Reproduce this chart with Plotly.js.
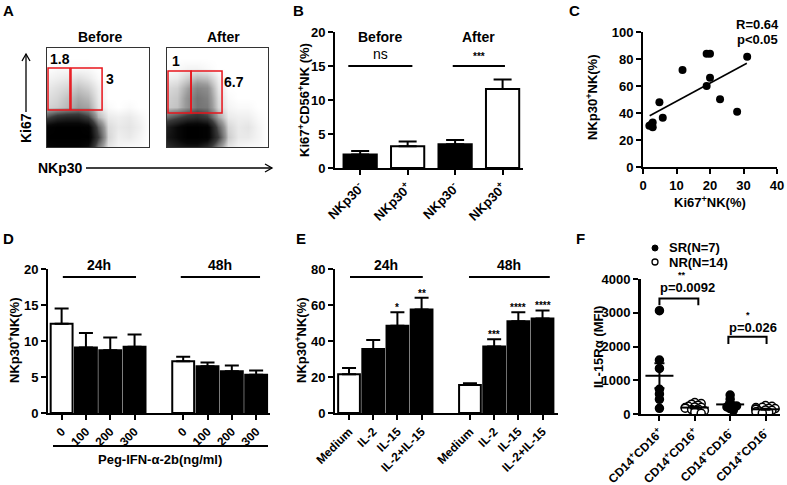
<!DOCTYPE html>
<html><head><meta charset="utf-8">
<script src="https://cdn.plot.ly/plotly-3.0.1.min.js"></script>
<style>html,body{margin:0;padding:0;background:#fff}</style>
</head><body><div id="chart" style="width:787px;height:485px"></div>
<script>
// ---------- DATA ----------
// Panel A: flow-cytometry density (rows = Ki67 0..100, cols = NKp30 0..100)
const flowGrid = [0,10,20,30,40,50,60,70,80,90,100];
const beforeDensity = [
 [0.9,0.95,0.95,0.95,0.8,0.3,0.05,0.02,0.01,0.01,0],
 [1,1,1,1,1,0.5,0.08,0.03,0.04,0.02,0],
 [0.95,1,1,1,0.95,0.4,0.07,0.04,0.05,0.03,0],
 [0.45,0.6,0.65,0.65,0.5,0.15,0.04,0.03,0.04,0.02,0],
 [0.08,0.1,0.14,0.2,0.18,0.05,0.01,0,0.01,0,0],
 [0.06,0.08,0.12,0.17,0.14,0.04,0,0,0,0,0],
 [0.04,0.06,0.08,0.12,0.09,0.03,0,0,0,0,0],
 [0.02,0.03,0.04,0.06,0.04,0.01,0,0,0,0,0],
 [0,0.01,0.01,0.01,0.01,0,0,0,0,0,0],
 [0,0,0,0,0,0,0,0,0,0,0],
 [0,0,0,0,0,0,0,0,0,0,0]];
const afterDensity = [
 [0.6,0.7,0.75,0.75,0.6,0.25,0.05,0.02,0.01,0.01,0],
 [0.75,0.85,1,1,0.95,0.5,0.1,0.04,0.04,0.02,0],
 [0.7,0.85,1,1,0.95,0.4,0.08,0.04,0.05,0.02,0],
 [0.35,0.45,0.55,0.6,0.5,0.18,0.04,0.03,0.03,0.01,0],
 [0.1,0.12,0.22,0.32,0.3,0.08,0.02,0.01,0.01,0,0],
 [0.09,0.11,0.22,0.32,0.28,0.07,0.01,0,0,0,0],
 [0.07,0.09,0.18,0.27,0.24,0.05,0,0,0,0,0],
 [0.03,0.04,0.09,0.14,0.12,0.03,0,0,0,0,0],
 [0,0.01,0.02,0.02,0.01,0,0,0,0,0,0],
 [0,0,0,0,0,0,0,0,0,0,0],
 [0,0,0,0,0,0,0,0,0,0,0]];
const flowTitles = ["Before","After"];
const beforeGateLabels = ["1.8","3"];
const afterGateLabels = ["1","6.7"];

// Panel B
const bCategories = ["NKp30<sup>-</sup>","NKp30<sup>+</sup>","NKp30<sup>-</sup>","NKp30<sup>+</sup>"];
const bValues = [2.0, 3.2, 3.5, 11.6];
const bErrTop = [2.5, 3.9, 4.1, 13.0];
const bFill = ["black","white","black","white"];
const bGroups = ["Before","After"];
const bSig = ["ns","***"];

// Panel C
const cKi67 = [1.9, 2.5, 2.9, 2.9, 4.9, 5.9, 11.8, 19.0, 20.0, 19.0, 20.0, 23.0, 28.1, 31.1];
const cNKp30 = [30.6, 31.5, 33.0, 29.4, 47.9, 36.5, 71.8, 83.9, 83.9, 60.0, 66.2, 50.1, 41.0, 81.7];
const cFitX = [2, 31];
const cFitY = [38, 76.8];
const cStats = ["R=0.64","p<0.05"];

// Panel D
const dDoses = ["0","100","200","300"];
const dGroups = ["24h","48h"];
const dValues = [12.4, 9.1, 8.7, 9.2, 7.2, 6.5, 5.8, 5.3];
const dErrTop = [14.5, 11.1, 10.5, 10.9, 7.8, 7.0, 6.6, 5.9];
const dFill = ["white","black","black","black","white","black","black","black"];

// Panel E
const eTreatments = ["Medium","IL-2","IL-15","IL-2+IL-15"];
const eGroups = ["24h","48h"];
const eValues = [21.5, 35.5, 48.5, 57.5, 15.5, 37.0, 51.0, 52.5];
const eErrTop = [25.0, 40.5, 56.0, 64.0, 16.5, 41.0, 56.0, 57.0];
const eFill = ["white","black","black","black","white","black","black","black"];
const eSig = ["","","*","**","","***","****","****"];

// Panel F
const fCategories = ["CD14<sup>+</sup>CD16<sup>+</sup>","CD14<sup>+</sup>CD16<sup>+</sup>","CD14<sup>+</sup>CD16<sup>-</sup>","CD14<sup>+</sup>CD16<sup>-</sup>"];
const fSeriesNames = ["SR(N=7)","NR(N=14)"];
const fCat1SR = [3060, 1600, 1350, 730, 590, 434, 168];
const fCat2NR = [340, 310, 290, 260, 230, 210, 200, 190, 170, 150, 130, 100, 60, 20];
const fCat3SR = [560, 440, 270, 240, 210, 160, 110];
const fCat4NR = [250, 230, 200, 190, 170, 160, 150, 140, 120, 110, 90, 70, 50, 30];
const fPvalues = ["p=0.0092","p=0.026"];
const fStars = ["**","*"];

// ---------- HELPERS ----------
const W = 787, H = 485;
const px = x => x / W;
const py = y => 1 - y / H;
const FONT = "'Liberation Sans', Arial, sans-serif";
const bold = (size) => ({family: FONT, size: size, color: "black", weight: 700});
const B = t => "<b>" + t + "</b>";

function numTicks(lo, hi, step) {
  const v = []; for (let t = lo; t <= hi + 1e-9; t += step) v.push(t);
  return {tickvals: v, ticktext: v.map(t => B(String(t)))};
}
function axisStyle(extra) {
  return Object.assign({
    showline: true, linecolor: "black", linewidth: 2,
    ticks: "outside", ticklen: 5, tickwidth: 2, tickcolor: "black",
    showgrid: false, zeroline: false, tickfont: bold(13), fixedrange: true
  }, extra);
}
function positions(nGroups, perGroup) {
  const p = [];
  for (let g = 0; g < nGroups; g++) for (let i = 0; i < perGroup; i++) p.push(g * (perGroup + 1) + i);
  return p;
}

const traces = [];
const shapes = [];
const annotations = [];
function note(o) {
  annotations.push(Object.assign({xref:"paper", yref:"paper", xanchor:"center", yanchor:"middle", showarrow:false, font: bold(13)}, o));
}

// ---------- PANEL A ----------
const flowScale = [[0,"#ffffff"],[0.05,"#e4e4e4"],[0.2,"#9a9a9a"],[0.5,"#3a3a3a"],[0.85,"#080808"],[1,"#000000"]];
[[beforeDensity,"x","y"],[afterDensity,"x2","y2"]].forEach(([z,xa,ya]) => {
  traces.push({type:"heatmap", x: flowGrid, y: flowGrid, z: z, xaxis: xa, yaxis: ya,
    zmin: 0, zmax: 1, colorscale: flowScale, showscale: false, zsmooth: "best", hoverinfo: "skip"});
});
const gateStyle = {color: "#e8141b", width: 1.5};
[["x","y",[1,22.5,23.5,54],[37.4,79.8]],["x2","y2",[1,23.8,23.8,54.5],[34.3,76.8]]].forEach(([xa,ya,gx,gy]) => {
  shapes.push({type:"rect", xref: xa, yref: ya, x0: gx[0], x1: gx[1], y0: gy[0], y1: gy[1], line: gateStyle});
  shapes.push({type:"rect", xref: xa, yref: ya, x0: gx[2], x1: gx[3], y0: gy[0], y1: gy[1], line: gateStyle});
});
note({x: px(100), y: py(37), text: B(flowTitles[0]), font: bold(14)});
note({x: px(223), y: py(37), text: B(flowTitles[1]), font: bold(14)});
note({x: px(60), y: py(59), text: B(beforeGateLabels[0]), font: bold(14)});
note({x: px(110), y: py(79), text: B(beforeGateLabels[1]), font: bold(14)});
note({x: px(176), y: py(61), text: B(afterGateLabels[0]), font: bold(14)});
note({x: px(234), y: py(82), text: B(afterGateLabels[1]), font: bold(14)});
note({x: px(26), y: py(128), text: B("Ki67"), textangle: -90, font: bold(14)});
note({x: px(60), y: py(168), text: B("NKp30"), font: bold(14)});
shapes.push({type:"line", xref:"paper", yref:"paper", x0: px(26), x1: px(26), y0: py(112), y1: py(54), line:{color:"black", width:1.3}});
shapes.push({type:"path", xref:"paper", yref:"paper", path: `M ${px(22)} ${py(61)} L ${px(26)} ${py(54)} L ${px(30)} ${py(61)}`, line:{color:"black", width:1.3}});
shapes.push({type:"line", xref:"paper", yref:"paper", x0: px(86), x1: px(272), y0: py(168), y1: py(168), line:{color:"black", width:1.3}});
shapes.push({type:"path", xref:"paper", yref:"paper", path: `M ${px(265)} ${py(164)} L ${px(272)} ${py(168)} L ${px(265)} ${py(172)}`, line:{color:"black", width:1.3}});

// ---------- PANEL B ----------
const bPos = bValues.map((_, i) => i);
traces.push({type:"bar", x: bPos, y: bValues, xaxis:"x3", yaxis:"y3", width: 0.7,
  marker:{color: bFill, line:{color:"black", width:2}},
  error_y:{type:"data", symmetric:false, array: bErrTop.map((e,i)=>e-bValues[i]), arrayminus: bValues.map(()=>0), color:"black", thickness:2, width:9},
  hoverinfo:"skip"});
[[-0.25,1.1],[1.95,3.05]].forEach((r, g) => {
  shapes.push({type:"line", xref:"x3", yref:"y3", x0: r[0], x1: r[1], y0: 15, y1: 15, line:{color:"black", width:2}});
  note({xref:"x3", x: (r[0]+r[1])/2, y: py(37), text: B(bGroups[g]), font: bold(14)});
  note({xref:"x3", x: (r[0]+r[1])/2, y: py(g===0 ? 54 : 56), text: g===0 ? bSig[g] : B(bSig[g]), font: g===0 ? {family:FONT,size:14,color:"black"} : bold(10)});
});
note({x: px(304), y: py(100), text: B("Ki67<sup>+</sup>CD56<sup>+</sup>NK (%)"), textangle:-90});

// ---------- PANEL C ----------
traces.push({type:"scatter", mode:"markers", x: cKi67, y: cNKp30, xaxis:"x4", yaxis:"y4",
  marker:{color:"black", size:8}, hoverinfo:"skip"});
traces.push({type:"scatter", mode:"lines", x: cFitX, y: cFitY, xaxis:"x4", yaxis:"y4",
  line:{color:"black", width:1.6}, hoverinfo:"skip"});
note({x: px(757), y: py(24), text: B(cStats[0]), font: bold(13)});
note({x: px(757), y: py(39), text: B(cStats[1]), font: bold(13)});
note({x: px(592), y: py(97), text: B("NKp30<sup>+</sup>NK(%)"), textangle:-90});
note({x: px(710), y: py(202), text: B("Ki67<sup>+</sup>NK(%)")});

// ---------- PANEL D ----------
const dPos = positions(dGroups.length, dDoses.length);
traces.push({type:"bar", x: dPos, y: dValues, xaxis:"x5", yaxis:"y5", width: 0.9,
  marker:{color: dFill, line:{color:"black", width:2}},
  error_y:{type:"data", symmetric:false, array: dErrTop.map((e,i)=>e-dValues[i]), arrayminus: dValues.map(()=>0), color:"black", thickness:2, width:7},
  hoverinfo:"skip"});
[[0.05,3.06],[4.9,8.16]].forEach((r, g) => {
  shapes.push({type:"line", xref:"x5", yref:"paper", x0: r[0], x1: r[1], y0: py(277), y1: py(277), line:{color:"black", width:2}});
  note({xref:"x5", x: (r[0]+r[1])/2, y: py(265), text: B(dGroups[g]), font: bold(14)});
});
shapes.push({type:"line", xref:"paper", yref:"paper", x0: px(53), x1: px(268), y0: py(446), y1: py(446), line:{color:"black", width:2}});
note({x: px(160), y: py(459), text: B("Peg-IFN-α-2b(ng/ml)")});
note({x: px(14), y: py(340), text: B("NKp30<sup>+</sup>NK(%)"), textangle:-90});

// ---------- PANEL E ----------
const ePos = positions(eGroups.length, eTreatments.length);
traces.push({type:"bar", x: ePos, y: eValues, xaxis:"x6", yaxis:"y6", width: 0.9,
  marker:{color: eFill, line:{color:"black", width:2}},
  error_y:{type:"data", symmetric:false, array: eErrTop.map((e,i)=>e-eValues[i]), arrayminus: eValues.map(()=>0), color:"black", thickness:2, width:7},
  hoverinfo:"skip"});
[[0.04,3.05],[4.96,8.3]].forEach((r, g) => {
  shapes.push({type:"line", xref:"x6", yref:"paper", x0: r[0], x1: r[1], y0: py(277), y1: py(277), line:{color:"black", width:2}});
  note({xref:"x6", x: (r[0]+r[1])/2, y: py(265), text: B(eGroups[g]), font: bold(14)});
});
eSig.forEach((s, i) => {
  if (!s) return;
  note({xref:"x6", yref:"y6", x: ePos[i], y: eErrTop[i], yanchor:"bottom", yshift: -3, text: B(s), font: bold(10)});
});
note({x: px(301), y: py(340), text: B("NKp30<sup>+</sup>NK(%)"), textangle:-90});

// ---------- PANEL F ----------
const fXpx = 140 / 3.96, fYpx = 135 / 4000, DIAM = 8;
function swarm(values, center) {
  const placed = [];
  const order = values.map((v, i) => i).sort((a, b) => values[b] - values[a]);
  const xs = new Array(values.length);
  order.forEach(i => {
    const yp = values[i] * fYpx;
    for (let k = 0; k < 40; k++) {
      const off = (k === 0 ? 0 : (k % 2 ? 1 : -1) * Math.ceil(k / 2) * DIAM * 0.4);
      if (k >= 6 || placed.every(p => Math.hypot(p[0] - off, p[1] - yp) >= DIAM * 0.45)) {
        placed.push([off, yp]); xs[i] = center + off / fXpx; break;
      }
    }
  });
  return xs;
}
const fSets = [[fCat1SR, 0, true],[fCat2NR, 1, false],[fCat3SR, 2, true],[fCat4NR, 3, false]];
fSets.forEach(([vals, c, filled]) => {
  traces.push({type:"scatter", mode:"markers", x: swarm(vals, c), y: vals, xaxis:"x7", yaxis:"y7",
    marker:{size:DIAM, color: filled ? "black" : "white", line:{color:"black", width:1.5}}, hoverinfo:"skip"});
  const n = vals.length;
  const mean = vals.reduce((a, b) => a + b, 0) / n;
  const sd = Math.sqrt(vals.reduce((a, b) => a + (b - mean) ** 2, 0) / (n - 1));
  const sem = sd / Math.sqrt(n);
  traces.push({type:"scatter", mode:"markers", x:[c], y:[mean], xaxis:"x7", yaxis:"y7",
    marker:{symbol:"line-ew-open", size:20, color:"black", line:{color:"black", width:2}},
    error_y:{type:"data", array:[sem], color:"black", thickness:2, width:5}, hoverinfo:"skip"});
});
[[0, 1.1, 3423, 3225], [1.95, 3.03, 2287, 2071]].forEach((b) => {
  shapes.push({type:"path", xref:"x7", yref:"y7", path:`M ${b[0]} ${b[3]} L ${b[0]} ${b[2]} L ${b[1]} ${b[2]} L ${b[1]} ${b[3]}`, line:{color:"black", width:2}});
});
// make sure the F y-axis spine is drawn
shapes.push({type:"line", xref:"paper", yref:"paper", x0: px(640), x1: px(640), y0: py(415), y1: py(279), line:{color:"black", width:2}});
note({x: px(687), y: py(287), text: B(fPvalues[0])});
note({x: px(682), y: py(275), text: B(fStars[0]), font: bold(9)});
note({x: px(753), y: py(327), text: B(fPvalues[1])});
note({x: px(748), y: py(315), text: B(fStars[1]), font: bold(9)});
shapes.push({type:"circle", xref:"paper", yref:"paper", x0: px(652), x1: px(658), y0: py(251), y1: py(245), fillcolor:"black", line:{color:"black", width:1}});
shapes.push({type:"circle", xref:"paper", yref:"paper", x0: px(652), x1: px(658), y0: py(265), y1: py(259), fillcolor:"white", line:{color:"black", width:1.3}});
note({x: px(667), y: py(248), xanchor:"left", text: B(fSeriesNames[0])});
note({x: px(667), y: py(262), xanchor:"left", text: B(fSeriesNames[1])});
note({x: px(598), y: py(347), text: B("IL-15Rα (MFI)"), textangle:-90});

// panel letters
[["A",8,10],["B",298,10],["C",574,10],["D",8,238],["E",301,238],["F",580,238]].forEach(([t,x,y]) => {
  note({x: px(x), y: py(y), text: B(t), font: bold(15)});
});

// ---------- LAYOUT ----------
const flowAxis = (dom, anchor) => ({domain: dom, range:[0,100], anchor: anchor, showline:true, mirror:true,
  linecolor:"#333", linewidth:1, ticks:"", showticklabels:false, showgrid:false, zeroline:false, fixedrange:true});
const layout = {
  width: W, height: H, margin:{l:0,r:0,t:0,b:0}, paper_bgcolor:"white", plot_bgcolor:"rgba(0,0,0,0)",
  showlegend:false, font:{family:FONT, color:"black"},
  xaxis: flowAxis([px(47),px(149)], "y"),
  yaxis: flowAxis([py(147),py(48)], "x"),
  xaxis2: flowAxis([px(167),px(268)], "y2"),
  yaxis2: flowAxis([py(147),py(48)], "x2"),
  xaxis3: axisStyle({domain:[px(335),px(523)], range:[-0.53,3.43], anchor:"y3", tickvals: bPos, ticktext: bCategories.map(B), tickangle:-45}),
  yaxis3: axisStyle(Object.assign({domain:[py(168),py(32)], range:[0,20], anchor:"x3"}, numTicks(0,20,5))),
  xaxis4: axisStyle(Object.assign({domain:[px(643),px(777)], range:[0,40], anchor:"y4"}, numTicks(0,40,10))),
  yaxis4: axisStyle(Object.assign({domain:[py(167),py(32)], range:[0,100], anchor:"x4"}, numTicks(0,100,20))),
  xaxis5: axisStyle({domain:[px(48),px(270)], range:[-0.56,8.57], anchor:"y5", tickvals: dPos, ticktext: dPos.map((_,i)=>B(dDoses[i % dDoses.length])), tickangle:-45, tickfont: bold(12)}),
  yaxis5: axisStyle(Object.assign({domain:[py(413),py(269)], range:[0,20], anchor:"x5"}, numTicks(0,20,5))),
  xaxis6: axisStyle({domain:[px(335),px(558)], range:[-0.58,8.64], anchor:"y6", tickvals: ePos, ticktext: ePos.map((_,i)=>B(eTreatments[i % eTreatments.length])), tickangle:-45, tickfont: bold(12)}),
  yaxis6: axisStyle(Object.assign({domain:[py(413),py(269)], range:[0,80], anchor:"x6"}, numTicks(0,80,20))),
  xaxis7: axisStyle({domain:[px(640),px(780)], range:[-0.55,3.41], anchor:"y7", tickvals:[0,1,2,3], ticktext: fCategories.map(B), tickangle:-45, tickfont: bold(12)}),
  yaxis7: axisStyle(Object.assign({domain:[py(414),py(279)], range:[0,4000], anchor:"x7"}, numTicks(0,4000,1000))),
  shapes: shapes, annotations: annotations
};
Plotly.newPlot("chart", traces, layout, {displayModeBar:false, staticPlot:true});
</script></body></html>
